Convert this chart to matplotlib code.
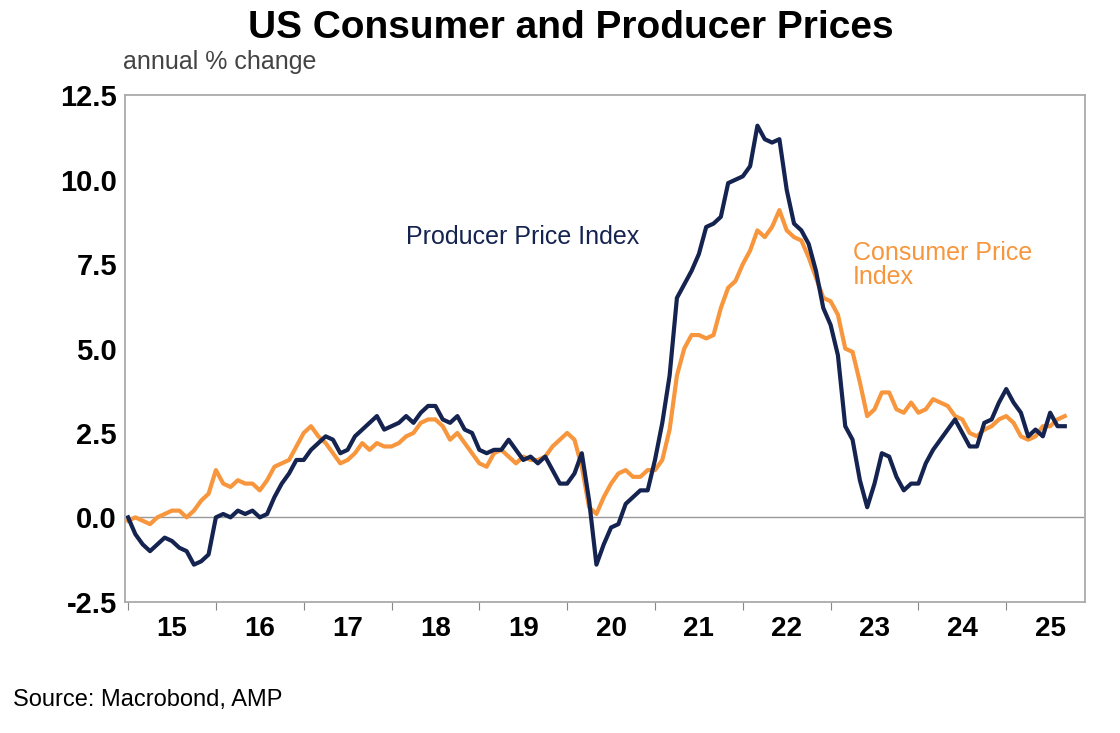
import numpy as np
import matplotlib.pyplot as plt

ppi = [0.0, -0.5, -0.8, -1.0, -0.8, -0.6, -0.7, -0.9, -1.0, -1.4, -1.3, -1.1,
       0.0, 0.1, 0.0, 0.2, 0.1, 0.2, 0.0, 0.1, 0.6, 1.0, 1.3, 1.7,
       1.7, 2.0, 2.2, 2.4, 2.3, 1.9, 2.0, 2.4, 2.6, 2.8, 3.0, 2.6,
       2.7, 2.8, 3.0, 2.8, 3.1, 3.3, 3.3, 2.9, 2.8, 3.0, 2.6, 2.5,
       2.0, 1.9, 2.0, 2.0, 2.3, 2.0, 1.7, 1.8, 1.6, 1.8, 1.4, 1.0,
       1.0, 1.3, 1.9, 0.5, -1.4, -0.8, -0.3, -0.2, 0.4, 0.6, 0.8, 0.8,
       1.7, 2.8, 4.2, 6.5, 6.9, 7.3, 7.8, 8.6, 8.7, 8.9, 9.9, 10.0,
       10.1, 10.4, 11.6, 11.2, 11.1, 11.2, 9.7, 8.7, 8.5, 8.1, 7.3, 6.2,
       5.7, 4.8, 2.7, 2.3, 1.1, 0.3, 1.0, 1.9, 1.8, 1.2, 0.8, 1.0,
       1.0, 1.6, 2.0, 2.3, 2.6, 2.9, 2.5, 2.1, 2.1, 2.8, 2.9, 3.4,
       3.8, 3.4, 3.1, 2.4, 2.6, 2.4, 3.1, 2.7, 2.7]
cpi = [-0.1, 0.0, -0.1, -0.2, 0.0, 0.1, 0.2, 0.2, 0.0, 0.2, 0.5, 0.7,
       1.4, 1.0, 0.9, 1.1, 1.0, 1.0, 0.8, 1.1, 1.5, 1.6, 1.7, 2.1,
       2.5, 2.7, 2.4, 2.2, 1.9, 1.6, 1.7, 1.9, 2.2, 2.0, 2.2, 2.1,
       2.1, 2.2, 2.4, 2.5, 2.8, 2.9, 2.9, 2.7, 2.3, 2.5, 2.2, 1.9,
       1.6, 1.5, 1.9, 2.0, 1.8, 1.6, 1.8, 1.7, 1.7, 1.8, 2.1, 2.3,
       2.5, 2.3, 1.5, 0.3, 0.1, 0.6, 1.0, 1.3, 1.4, 1.2, 1.2, 1.4,
       1.4, 1.7, 2.6, 4.2, 5.0, 5.4, 5.4, 5.3, 5.4, 6.2, 6.8, 7.0,
       7.5, 7.9, 8.5, 8.3, 8.6, 9.1, 8.5, 8.3, 8.2, 7.7, 7.1, 6.5,
       6.4, 6.0, 5.0, 4.9, 4.0, 3.0, 3.2, 3.7, 3.7, 3.2, 3.1, 3.4,
       3.1, 3.2, 3.5, 3.4, 3.3, 3.0, 2.9, 2.5, 2.4, 2.6, 2.7, 2.9,
       3.0, 2.8, 2.4, 2.3, 2.4, 2.7, 2.7, 2.9, 3.0]
years = list(range(2015, 2026))
year_labels = ["15", "16", "17", "18", "19", "20", "21", "22", "23", "24", "25"]
yticks = [-2.5, 0.0, 2.5, 5.0, 7.5, 10.0, 12.5]

navy = "#14234f"
orange = "#f7963c"
plt.rcParams['font.family'] = ['Liberation Sans', 'DejaVu Sans']

fig = plt.figure(figsize=(11.2, 7.33), dpi=100)
ax = fig.add_axes([0.112, 0.179, 0.857, 0.691])

x = 2015 + np.arange(len(ppi)) / 12
ax.axhline(0, color="#999999", lw=1)
ax.plot(x, cpi, color=orange, lw=3)
ax.plot(x, ppi, color=navy, lw=3)

ax.set_xlim(2014.97, 2025.9)
ax.set_ylim(-2.5, 12.5)
ax.set_yticks(yticks)
ax.set_yticklabels([f"{v:.1f}" for v in yticks], fontsize=21, fontweight="bold")
ax.set_xticks(years)
ax.set_xticklabels([])
ax.set_xticks([y + 0.5 for y in years], minor=True)
ax.set_xticklabels(year_labels, minor=True, fontsize=20, fontweight="bold")
ax.tick_params(axis="x", which="major", length=6, direction="out", color="#888888")
ax.tick_params(axis="x", which="minor", length=0, pad=10)
ax.tick_params(axis="y", length=0, pad=6)
for s in ax.spines.values():
    s.set_color("#aaaaaa")
    s.set_linewidth(1.3)

ax.text(2018.17, 8.1, "Producer Price Index", color=navy, fontsize=18, ha="left")
ax.text(2023.25, 6.9, "Consumer Price\nIndex", color=orange, fontsize=18, ha="left",
        linespacing=1.0)

fig.text(0.51, 0.962, "US Consumer and Producer Prices", ha="center", va="center",
         fontsize=28, fontweight="bold")
fig.text(0.11, 0.915, "annual % change", ha="left", va="center", fontsize=18, color="#444444")
fig.text(0.012, 0.045, "Source: Macrobond, AMP", ha="left", va="center", fontsize=17)

fig.savefig("out.png", dpi=100)
